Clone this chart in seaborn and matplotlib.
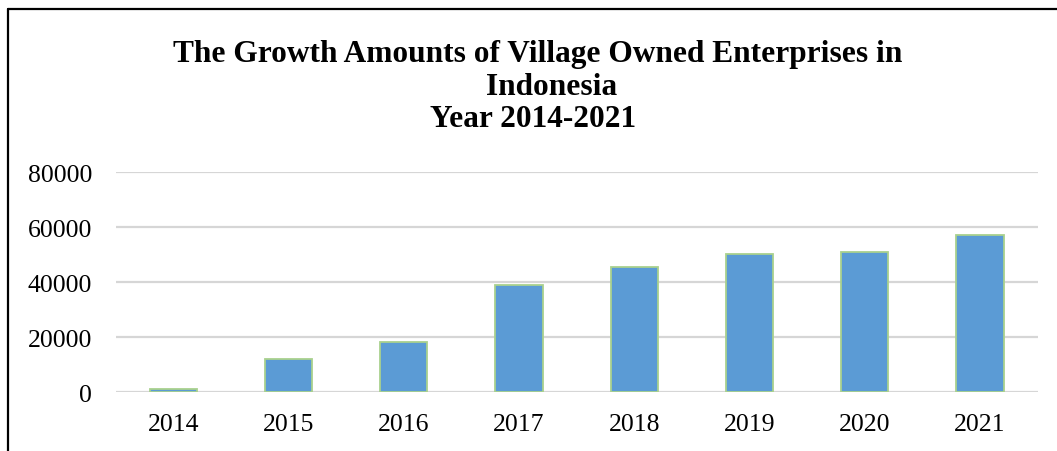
import matplotlib
matplotlib.use("Agg")
import matplotlib.pyplot as plt
import seaborn as sns
import pandas as pd
from matplotlib.lines import Line2D

years = ["2014", "2015", "2016", "2017", "2018", "2019", "2020", "2021"]
counts = [1022, 12115, 18446, 39149, 45549, 50199, 51134, 57273]
yticks = [0, 20000, 40000, 60000, 80000]
title_lines = ["The Growth Amounts of Village Owned Enterprises in", "Indonesia", "Year 2014-2021"]

sns.set_theme(style="white")
plt.rcParams["font.family"] = ["Liberation Serif", "DejaVu Serif"]

df = pd.DataFrame({"year": years, "count": counts})

fig = plt.figure(figsize=(10.57, 4.52), dpi=100)
ax = fig.add_axes([0.1095, 0.1299, 0.9817 - 0.1095, 0.6166 - 0.1299])

sns.barplot(data=df, x="year", y="count", ax=ax, color="#5B9BD5", width=0.41,
            edgecolor="#A9D18E", linewidth=1.3, saturation=1, zorder=3)

ax.set_xlim(-0.5, len(years) - 0.5)
ax.set_ylim(0, 80000)
ax.set_yticks(yticks)
ax.set_yticklabels([str(v) for v in yticks])
ax.set_xlabel("")
ax.set_ylabel("")
for s in ax.spines.values():
    s.set_visible(False)
ax.yaxis.grid(True, color="#D6D6D6", linewidth=1.6, zorder=0)
ax.set_axisbelow(True)
ax.tick_params(axis="both", length=0, labelsize=18.5, colors="black")
ax.tick_params(axis="y", pad=17)
ax.tick_params(axis="x", pad=15)
ax.set_facecolor("white")

centers = [0.509, 0.5215, 0.5045]
baselines = [1 - 61.7 / 452, 1 - 95 / 452, 1 - 127.5 / 452]
for txt, cx, by in zip(title_lines, centers, baselines):
    fig.text(cx, by, txt, ha="center", va="baseline", fontsize=22.6,
             fontweight="bold", color="black")

# outer chart frame (cropped at right and bottom)
fig.add_artist(Line2D([8 / 1057, 1.0], [1 - 10 / 452, 1 - 10 / 452],
                      transform=fig.transFigure, color="black", linewidth=1.6))
fig.add_artist(Line2D([8 / 1057, 8 / 1057], [0.0, 1 - 10 / 452],
                      transform=fig.transFigure, color="black", linewidth=1.6))

fig.savefig("out.png", dpi=100, facecolor="white")
